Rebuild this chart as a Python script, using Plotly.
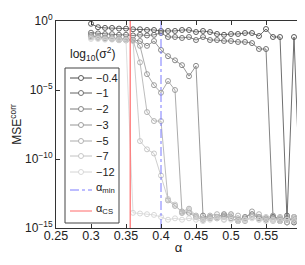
import plotly.graph_objects as go

# alpha grid
alpha = [0.30, 0.31, 0.32, 0.33, 0.34, 0.35, 0.36, 0.37, 0.38, 0.39,
         0.40, 0.41, 0.42, 0.43, 0.44, 0.45, 0.46, 0.47, 0.48, 0.49,
         0.50, 0.51, 0.52, 0.53, 0.54, 0.55, 0.56, 0.57, 0.58, 0.59, 0.60]

# log10(MSE^corr) per noise level log10(sigma^2)
mse_m04 = [-0.2, -0.45, -0.5, -0.5, -0.55, -0.55, -0.6, -0.6, -0.65, -0.65,
           -0.72, -0.72, -0.72, -0.65, -0.65, -0.8, -0.72, -0.8, -0.94, -1.0,
           -0.94, -0.94, -0.87, -0.87, -1.09, -0.58, -1.16, -1.16, -14.4, -1.16, -14.3]
mse_m1 = [-0.85, -0.9, -0.95, -0.95, -1.0, -1.0, -1.05, -1.0, -1.05, -1.0,
          -0.87, -1.16, -1.16, -1.23, -1.16, -1.38, -1.16, -1.38, -1.38, -1.45,
          -1.45, -1.52, -1.52, -1.6, -2.03, -2.03, -14.2, -14.5, -14.1, -14.6, -14.4]
mse_m2 = [-1.0, -1.2, -1.25, -1.3, -1.38, -1.4, -1.38, -1.45, -1.8, -1.45,
          -2.1, -2.55, -2.85, -3.2, -4.0, -3.25, -14.1, -14.3, -14.2, -14.0,
          -14.3, -14.5, -14.2, -14.0, -14.3, -14.4, -14.2, -14.3, -14.6, -14.2, -14.1]
mse_m3 = [-1.1, -1.15, -1.2, -1.2, -1.25, -1.3, -1.35, -1.8, -3.85, -4.65,
          -5.2, -4.35, -5.0, -13.9, -13.9, -14.2, -14.4, -14.2, -14.3, -14.1,
          -14.0, -14.4, -14.3, -13.8, -14.2, -14.3, -14.1, -14.4, -14.2, -14.5, -14.0]
mse_m5 = [-1.15, -1.2, -1.25, -1.3, -1.3, -1.35, -1.4, -3.0, -6.6, -7.25,
          -7.25, -13.0, -13.4, -13.8, -13.6, -14.1, -14.3, -14.1, -14.0, -14.2,
          -14.3, -14.1, -14.5, -14.2, -14.0, -14.3, -14.4, -14.2, -14.6, -14.3, -14.4]
mse_m7 = [-1.2, -1.25, -1.3, -1.3, -1.35, -1.4, -1.45, -8.7, -9.3, -9.6,
          -11.2, -12.9, -13.3, -13.9, -13.7, -14.2, -14.4, -14.3, -14.2, -14.4,
          -14.1, -14.3, -14.4, -14.2, -14.4, -14.2, -14.5, -14.3, -14.4, -14.2, -14.3]
mse_m12 = [-1.3, -1.3, -1.35, -1.35, -1.4, -1.4, -13.9, -13.95, -14.0, -14.05,
           -14.2, -14.4, -14.3, -14.4, -14.3, -14.4, -14.5, -14.4, -14.3, -14.4,
           -14.4, -14.5, -14.4, -14.3, -14.4, -14.5, -14.4, -14.5, -14.4, -14.5, -14.4]

series_names = ["\u22120.4", "\u22121", "\u22122", "\u22123", "\u22125", "\u22127", "\u221212"]
series_values = [mse_m04, mse_m1, mse_m2, mse_m3, mse_m5, mse_m7, mse_m12]
series_colors = ["#4a4a4a", "#636363", "#7d7d7d", "#959595", "#ababab", "#c2c2c2", "#d4d4d4"]

alpha_min = 0.40
alpha_cs = 0.356
alpha_min_name = "\u03b1<sub>min</sub>"
alpha_cs_name = "\u03b1<sub>CS</sub>"
alpha_min_color = "#7b7bff"
alpha_cs_color = "#ff6a6a"

x_ticks = [0.25, 0.3, 0.35, 0.4, 0.45, 0.5, 0.55]
x_tick_text = ["0.25", "0.3", "0.35", "0.4", "0.45", "0.5", "0.55"]
y_ticks = [1e0, 1e-5, 1e-10, 1e-15]
y_tick_text = ["10<sup>0</sup>", "10<sup>\u22125</sup>", "10<sup>\u221210</sup>", "10<sup>\u221215</sup>"]

y_lo, y_hi = 1e-15, 1e0

# ---- layout geometry (pixels) ----
W, H = 305, 265
ML, MR, MT, MB = 48, 12, 13, 45
PW, PH = W - ML - MR, H - MT - MB


def px(x):
    return (x - ML) / PW


def py(y):
    return (H - MB - y) / PH


font_family = "Liberation Sans, Arial, sans-serif"

fig = go.Figure()
for name, vals, col in zip(series_names, series_values, series_colors):
    fig.add_trace(go.Scatter(
        x=alpha, y=[10 ** v for v in vals], mode="lines+markers", name=name,
        line=dict(color=col, width=0.8),
        marker=dict(symbol="circle-open", size=5, color=col, line=dict(width=0.9, color=col)),
        showlegend=False,
    ))

fig.add_trace(go.Scatter(
    x=[alpha_min, alpha_min], y=[y_lo, y_hi], mode="lines", name=alpha_min_name,
    line=dict(color=alpha_min_color, width=1, dash="dashdot"), showlegend=False,
))
fig.add_trace(go.Scatter(
    x=[alpha_cs, alpha_cs], y=[y_lo, y_hi], mode="lines", name=alpha_cs_name,
    line=dict(color=alpha_cs_color, width=1.2), showlegend=False,
))

# ---- hand-built legend (box, samples, labels) ----
shapes = []
annotations = []
box_l, box_r, box_t, box_b = 57, 111, 60, 215
shapes.append(dict(type="rect", xref="paper", yref="paper",
                   x0=px(box_l), x1=px(box_r), y0=py(box_b), y1=py(box_t),
                   line=dict(color="#444", width=1), fillcolor="white", layer="above"))
entry_y = [70, 85, 101, 117, 133, 148, 164]
ln_l, ln_r, mk_x, tx_x = 62, 84, 73, 86
for yy, name, col in zip(entry_y, series_names, series_colors):
    shapes.append(dict(type="line", xref="paper", yref="paper",
                       x0=px(ln_l), x1=px(ln_r), y0=py(yy), y1=py(yy),
                       line=dict(color=col, width=1), layer="above"))
    shapes.append(dict(type="circle", xref="paper", yref="paper",
                       xsizemode="pixel", ysizemode="pixel",
                       xanchor=px(mk_x), yanchor=py(yy), x0=-2.5, x1=2.5, y0=-2.5, y1=2.5,
                       line=dict(color=col, width=0.9), fillcolor="white", layer="above"))
    annotations.append(dict(text=name, xref="paper", yref="paper", x=px(tx_x), y=py(yy),
                            xanchor="left", yanchor="middle", showarrow=False,
                            font=dict(size=11, family=font_family, color="#222")))
for yy, name, col, dash in [(182, alpha_min_name, alpha_min_color, "dashdot"),
                            (203, alpha_cs_name, alpha_cs_color, "solid")]:
    shapes.append(dict(type="line", xref="paper", yref="paper",
                       x0=px(ln_l), x1=px(ln_r), y0=py(yy), y1=py(yy),
                       line=dict(color=col, width=1, dash=dash), layer="above"))
    annotations.append(dict(text=name, xref="paper", yref="paper", x=px(tx_x), y=py(yy - 2),
                            xanchor="left", yanchor="middle", showarrow=False,
                            font=dict(size=11, family=font_family, color="#222")))

annotations.append(dict(
    text="log<sub>10</sub>(\u03c3<sup>2</sup>)", xref="paper", yref="paper",
    x=px(84), y=py(46), xanchor="center", yanchor="middle", showarrow=False,
    font=dict(size=12, family=font_family, color="#222"),
))

fig.update_layout(
    width=W, height=H,
    margin=dict(l=ML, r=MR, t=MT, b=MB, autoexpand=False),
    paper_bgcolor="white", plot_bgcolor="white",
    font=dict(family=font_family, size=12, color="#222"),
    showlegend=False,
    xaxis=dict(
        range=[0.25, 0.6], tickvals=x_ticks, ticktext=x_tick_text,
        ticks="inside", ticklen=4, tickcolor="#333", mirror="ticks",
        showline=True, linecolor="#333", linewidth=1, showgrid=False, zeroline=False,
        title=dict(text="\u03b1", font=dict(size=13), standoff=0),
        tickfont=dict(size=12.5), automargin=False, ticklabelstandoff=-4,
    ),
    yaxis=dict(
        type="log", range=[-15, 0], tickvals=y_ticks, ticktext=y_tick_text,
        ticks="inside", ticklen=4, tickcolor="#333", mirror="ticks",
        showline=True, linecolor="#333", linewidth=1, showgrid=False, zeroline=False,
        title=dict(text="MSE<sup>corr</sup>", font=dict(size=12), standoff=2),
        tickfont=dict(size=12), automargin=False,
    ),
    shapes=shapes,
    annotations=annotations,
)

fig.write_html("out.html")
